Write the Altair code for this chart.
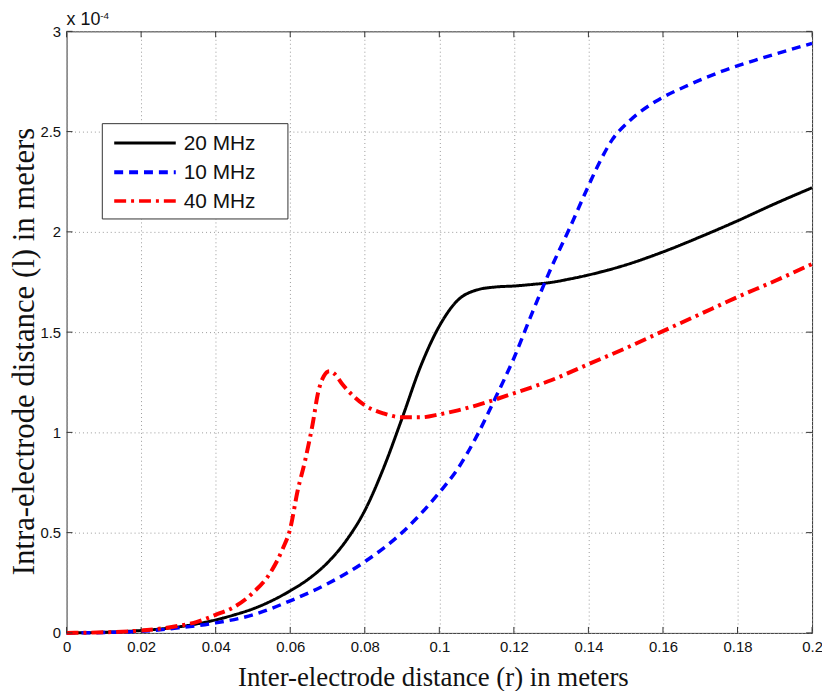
import altair as alt
import pandas as pd

# Values; l is in units of 1e-4 m
series = ["20 MHz", "10 MHz", "40 MHz"]

r_20 = [0, 0.01, 0.02, 0.03, 0.04, 0.045, 0.05, 0.055, 0.06, 0.065, 0.07, 0.075, 0.08,
        0.085, 0.09, 0.095, 0.1, 0.105, 0.11, 0.115, 0.12, 0.125, 0.13, 0.135, 0.14,
        0.15, 0.16, 0.17, 0.18, 0.19, 0.2]
l_20 = [0, 0.003, 0.012, 0.03, 0.065, 0.09, 0.12, 0.16, 0.21, 0.27, 0.35, 0.46, 0.61,
        0.82, 1.07, 1.33, 1.53, 1.66, 1.71, 1.725, 1.73, 1.738, 1.748, 1.765, 1.785,
        1.835, 1.90, 1.975, 2.055, 2.14, 2.22]

r_10 = [0, 0.01, 0.02, 0.03, 0.04, 0.05, 0.06, 0.07, 0.08, 0.09, 0.1, 0.105, 0.11,
        0.115, 0.12, 0.125, 0.13, 0.135, 0.1393, 0.1428, 0.1464, 0.1508, 0.158, 0.166,
        0.1757, 0.1863, 0.2]
l_10 = [0, 0.002, 0.008, 0.025, 0.05, 0.09, 0.16, 0.245, 0.355, 0.50, 0.70, 0.82, 0.98,
        1.17, 1.37, 1.60, 1.82, 2.02, 2.20, 2.34, 2.46, 2.55, 2.65, 2.725,
        2.80, 2.865, 2.94]

r_40 = [0, 0.01, 0.02, 0.03, 0.035, 0.04, 0.045, 0.05, 0.055, 0.058, 0.06, 0.062,
        0.064, 0.066, 0.0675, 0.069, 0.0705, 0.072, 0.074, 0.077, 0.08, 0.085, 0.09,
        0.095, 0.1, 0.105, 0.11, 0.12, 0.13, 0.14, 0.15, 0.16, 0.17, 0.18, 0.19, 0.2]
l_40 = [0, 0.003, 0.012, 0.035, 0.055, 0.09, 0.13, 0.2, 0.31, 0.42, 0.52, 0.71,
        0.86, 1.04, 1.2, 1.28, 1.305, 1.29, 1.24, 1.18, 1.135, 1.095, 1.075,
        1.075, 1.09, 1.11, 1.135, 1.195, 1.26, 1.34, 1.42, 1.505, 1.59, 1.675, 1.755, 1.84]

x_ticks = [0, 0.02, 0.04, 0.06, 0.08, 0.1, 0.12, 0.14, 0.16, 0.18, 0.2]
y_ticks = [0, 0.5, 1, 1.5, 2, 2.5, 3]

colors = ["#000000", "#0000ff", "#ff0000"]
dashes = [[1, 0], [9, 6], [12, 5, 3, 5]]
widths = [3, 4, 3.5]

rows = []
for name, rs, ls in zip(series, [r_20, r_10, r_40], [l_20, l_10, l_40]):
    for r, l in zip(rs, ls):
        rows.append({"series": name, "r": r, "l": l})
df = pd.DataFrame(rows)

W, H = 751, 606
xs = alt.Scale(domain=[0, 0.2], nice=False, zero=False)
ys = alt.Scale(domain=[0, 3], nice=False, zero=False)

grid_style = dict(grid=True, gridDash=[1, 3], gridColor="#9a9a9a", gridWidth=1,
                  domain=False, ticks=False, labelFont="Liberation Sans",
                  labelFontSize=15, labelColor="#111", labelFlush=False,
                  labelOverlap=False, titleFont="Liberation Serif",
                  titleFontWeight="normal", titleColor="#111")

x_axis = alt.Axis(values=x_ticks, format="~g", labelPadding=7,
                  title="Inter-electrode distance (r) in meters",
                  titleFontSize=27, titleBaseline="alphabetic",
                  titleY=53, titleX=369, **grid_style)
y_axis = alt.Axis(values=y_ticks, format="~g", labelPadding=6,
                  title="Intra-electrode distance (l) in meters",
                  titleFontSize=31, titleBaseline="middle",
                  titleX=-42, titleY=322, **grid_style)

lines = alt.Chart(df).mark_line(interpolate="monotone", strokeCap="butt").encode(
    x=alt.X("r:Q", scale=xs, axis=x_axis),
    y=alt.Y("l:Q", scale=ys, axis=y_axis),
    color=alt.Color("series:N", scale=alt.Scale(domain=series, range=colors), legend=None),
    strokeDash=alt.StrokeDash("series:N", scale=alt.Scale(domain=series, range=dashes), legend=None),
    strokeWidth=alt.StrokeWidth("series:N", scale=alt.Scale(domain=series, range=widths), legend=None),
)

tx = pd.DataFrame({"r": x_ticks})
ty = pd.DataFrame({"l": y_ticks})
tick_color = "#333333"
ticks_b = alt.Chart(tx).mark_rule(color=tick_color).encode(
    x=alt.X("r:Q", scale=xs, axis=x_axis), y=alt.value(H), y2=alt.value(H - 6))
ticks_t = alt.Chart(tx).mark_rule(color=tick_color).encode(
    x=alt.X("r:Q", scale=xs, axis=x_axis), y=alt.value(0), y2=alt.value(6))
ticks_l = alt.Chart(ty).mark_rule(color=tick_color).encode(
    y=alt.Y("l:Q", scale=ys, axis=y_axis), x=alt.value(0), x2=alt.value(6))
ticks_r = alt.Chart(ty).mark_rule(color=tick_color).encode(
    y=alt.Y("l:Q", scale=ys, axis=y_axis), x=alt.value(W), x2=alt.value(W - 6))

dummy = pd.DataFrame({"k": [0]})
legend_layers = [
    alt.Chart(dummy).mark_rect(fill="white", stroke="#333333", strokeWidth=1).encode(
        x=alt.value(36), x2=alt.value(223), y=alt.value(93), y2=alt.value(189))
]
row_y = [112.5, 142, 171]
for name, c, d, w, yy in zip(series, colors, dashes, widths, row_y):
    legend_layers.append(
        alt.Chart(dummy).mark_rule(color=c, strokeDash=d, strokeWidth=w, strokeCap="butt").encode(
            x=alt.value(48), x2=alt.value(110), y=alt.value(yy)))
    legend_layers.append(
        alt.Chart(dummy).mark_text(text=name, align="left", baseline="middle",
                                   font="Liberation Sans", fontSize=21, color="#111").encode(
            x=alt.value(118), y=alt.value(yy + 1)))

mult = alt.Chart(dummy).mark_text(text="x 10", align="left", baseline="alphabetic",
                                  font="Liberation Sans", fontSize=18, color="#111").encode(
    x=alt.value(0), y=alt.value(-6))
mult_exp = alt.Chart(dummy).mark_text(text="-4", align="left", baseline="alphabetic",
                                      font="Liberation Sans", fontSize=10, color="#111").encode(
    x=alt.value(34), y=alt.value(-12))

chart = alt.layer(lines, ticks_b, ticks_t, ticks_l, ticks_r, *legend_layers, mult, mult_exp).properties(
    width=W, height=H,
    autosize=alt.AutoSizeParams(type="none"),
    padding={"left": 59, "top": 21, "right": 10, "bottom": 56},
    background="white",
).configure_view(stroke="#333333", strokeWidth=1)

chart.save("out.html", embed_options={"renderer": "svg", "actions": False})
